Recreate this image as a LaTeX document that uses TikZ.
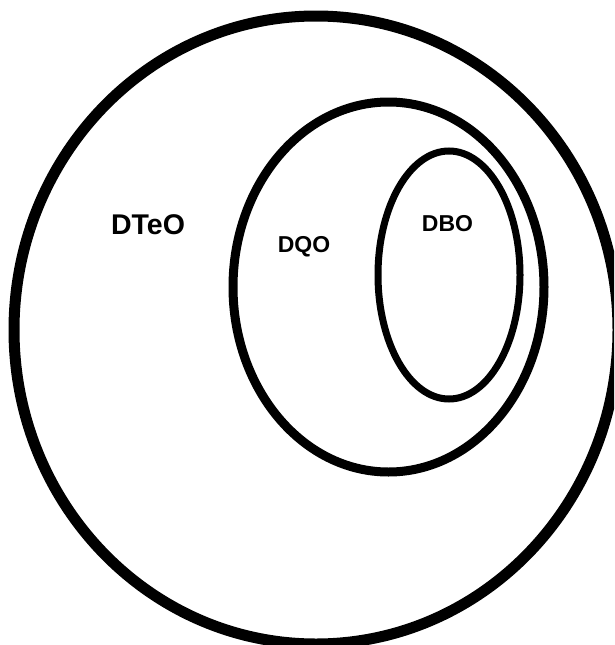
\documentclass[tikz,border=0pt]{standalone}
\usepackage{fontspec}
\setmainfont{Liberation Sans}

\begin{document}
\begin{tikzpicture}[x=1pt, y=-1pt]
            \useasboundingbox (0,0) rectangle (614,645);
            \clip (0,0) rectangle (614,645);
            \draw[black, line width=11pt] (316,330) ellipse [x radius=302, y radius=314];
            \draw[black, line width=9pt] (388.5,287) ellipse [x radius=155.5, y radius=185];
            \draw[black, line width=7pt] (449,275) ellipse [x radius=71, y radius=124];
            \node[font=\bfseries\fontsize{28.5}{28.5}\selectfont] (dteo) at (148,224.5) {DTeO};
            \node[font=\bfseries\fontsize{23}{23}\selectfont] (dqo) at (304,247) {DQO};
            \node[font=\bfseries\fontsize{23}{23}\selectfont] (dbo) at (447.5,223.5) {DBO};
        \end{tikzpicture}
\end{document}
